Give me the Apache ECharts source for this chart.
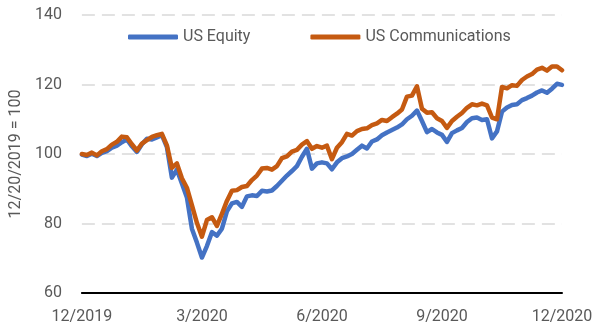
<!DOCTYPE html>
<html>
<head>
<meta charset="utf-8">
<script src="https://cdn.jsdelivr.net/npm/echarts@6/dist/echarts.min.js"></script>
<style>
html,body{margin:0;padding:0;background:#fff;}
#chart{width:600px;height:333px;}
</style>
</head>
<body>
<div id="chart"></div>
<script>
// Tick labels on the x axis (quarterly)
const tickLabels = ['12/2019', '3/2020', '6/2020', '9/2020', '12/2020'];
const pointsPerTick = 24;

// Index values (12/20/2019 = 100), sampled evenly through the year
const usEquity = [
  99.8, 99.4, 100.1, 99.4, 100.3, 100.8, 101.8, 102.4, 103.4, 104.2,
  102.2, 100.6, 102.8, 104.4, 104.2, 104.8, 105.4, 102.0, 93.2, 95.5,
  91.5, 87.5, 78.5, 74.5, 70.2, 73.5, 77.5, 76.5, 78.5, 83.5,
  85.8, 86.2, 84.8, 87.8, 88.1, 87.9, 89.4, 89.2, 89.5, 90.8,
  92.3, 93.8, 95.1, 96.5, 99.2, 101.5, 95.8, 97.3, 97.6, 97.3,
  95.6, 97.6, 98.8, 99.3, 100.0, 101.2, 102.4, 101.6, 103.6, 104.2,
  105.4, 106.2, 106.9, 107.6, 108.5, 110.0, 111.0, 112.5, 109.5, 106.3,
  107.2, 106.2, 105.5, 103.5, 106.0, 106.8, 107.5, 109.2, 110.3, 110.5,
  109.8, 110.0, 104.5, 106.5, 112.2, 113.4, 114.1, 114.3, 115.5, 116.1,
  116.8, 117.7, 118.3, 117.6, 118.8, 120.2, 119.9
];
const usCommunications = [
  100.0, 99.7, 100.4, 99.6, 100.8, 101.4, 102.7, 103.5, 105.0, 104.8,
  102.8, 101.0, 103.0, 104.0, 104.9, 105.4, 105.8, 102.5, 96.0, 97.3,
  93.0, 90.3, 85.3, 80.2, 76.2, 81.0, 81.8, 79.3, 82.8, 86.5,
  89.4, 89.6, 90.5, 90.8, 92.5, 93.8, 95.8, 96.0, 95.5, 96.5,
  98.8, 99.3, 100.7, 101.2, 102.7, 103.7, 101.5, 102.3, 101.8, 102.4,
  98.5, 101.8, 103.4, 105.8, 105.3, 106.6, 107.2, 107.4, 108.3, 108.8,
  109.8, 109.5, 110.6, 111.6, 112.8, 116.5, 116.8, 119.5, 113.0, 111.9,
  112.0, 110.3, 109.5, 107.5, 109.5, 110.7, 111.8, 113.3, 114.3, 114.0,
  114.5, 114.0, 110.5, 110.0, 119.3, 118.9, 119.8, 119.6, 121.3, 122.3,
  123.0, 124.3, 124.8, 124.0, 125.2, 125.2, 124.1
];

const seriesNames = ['US Equity', 'US Communications'];
const seriesColors = ['#4472C4', '#C55A11'];

const categories = usEquity.map((_, i) =>
  i % pointsPerTick === 0 ? tickLabels[i / pointsPerTick] : '');

const FONT = "Roboto, 'Noto Sans', sans-serif";
const FS = 16;
const TXT = '#595959';

const chart = echarts.init(document.getElementById('chart'), null, {renderer: 'canvas'});
chart.setOption({
  animation: false,
  backgroundColor: '#ffffff',
  textStyle: {fontFamily: FONT},
  grid: {left: 74, right: 38, top: 15, bottom: 40, containLabel: false},
  legend: {
    data: seriesNames,
    left: 123, top: 24,
    icon: 'roundRect',
    itemWidth: 50, itemHeight: 5,
    itemGap: 60,
    textStyle: {fontFamily: FONT, fontSize: FS, color: TXT}
  },
  xAxis: {
    type: 'category',
    data: categories,
    boundaryGap: false,
    axisLine: {show: true, lineStyle: {color: '#000', width: 2}},
    axisTick: {show: false},
    splitLine: {show: false},
    axisLabel: {
      interval: pointsPerTick - 1,
      margin: 16,
      fontFamily: FONT, fontSize: FS, color: TXT
    }
  },
  yAxis: {
    type: 'value',
    min: 60, max: 140, interval: 20,
    name: '12/20/2019 = 100',
    nameLocation: 'middle',
    nameGap: 50,
    nameTextStyle: {fontFamily: FONT, fontSize: FS, color: TXT},
    axisLine: {show: false},
    axisTick: {show: false},
    axisLabel: {margin: 20, fontFamily: FONT, fontSize: FS, color: TXT},
    splitLine: {show: true, lineStyle: {color: '#d9d9d9', width: 1.5, type: [13, 7]}}
  },
  series: seriesNames.map((name, k) => ({
    name: name,
    type: 'line',
    data: k === 0 ? usEquity : usCommunications,
    showSymbol: false,
    symbol: 'none',
    color: seriesColors[k],
    lineStyle: {width: 4.5, color: seriesColors[k], cap: 'round', join: 'round'},
    z: 2 + k
  }))
});
</script>
</body>
</html>
